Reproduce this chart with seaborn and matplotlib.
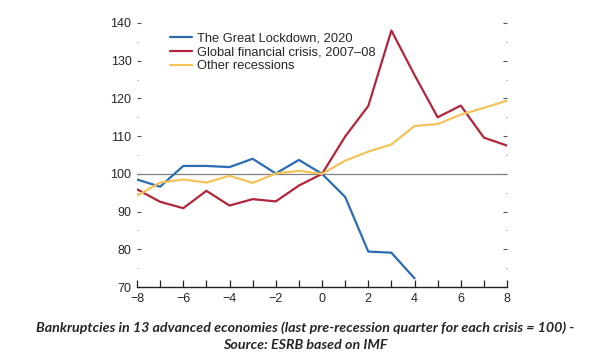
import numpy as np
import pandas as pd
import matplotlib
matplotlib.use("Agg")
import matplotlib.pyplot as plt
from matplotlib.ticker import MultipleLocator
import seaborn as sns

# Data (quarters relative to recession start)
quarters = list(range(-8, 9))
lockdown = [98.5, 96.6, 102.1, 102.1, 101.8, 104.0, 100.1, 103.7, 100.0,
            93.9, 79.4, 79.1, 72.3]
gfc = [95.9, 92.6, 90.9, 95.5, 91.6, 93.3, 92.7, 96.9, 100.0,
       109.9, 118.0, 138.0, 126.2, 115.0, 118.1, 109.6, 107.5]
other = [94.2, 97.7, 98.5, 97.7, 99.5, 97.6, 100.1, 100.8, 100.0,
         103.5, 105.9, 107.8, 112.7, 113.2, 115.7, 117.5, 119.4]

names = ["The Great Lockdown, 2020", "Global financial crisis, 2007\u201308", "Other recessions"]
colors = ["#2b6cb3", "#b1263b", "#f3c35c"]

rows = []
for name, vals in zip(names, [lockdown, gfc, other]):
    for q, v in zip(quarters, vals):
        rows.append({"quarter": q, "value": v, "series": name})
df = pd.DataFrame(rows)

sns.set_theme(style="white")
plt.rcParams['font.family'] = ['Liberation Sans Narrow', 'Liberation Sans', 'DejaVu Sans']

fig = plt.figure(figsize=(6.1, 3.57), dpi=100)
ax = fig.add_axes([0.2246, 0.196, 0.6066, 0.7396])

ax.axhline(100, color="#808080", lw=0.9, zorder=1)
sns.lineplot(data=df, x="quarter", y="value", hue="series", hue_order=names,
             palette=colors, lw=1.6, ax=ax, zorder=3)

ax.set_xlim(-8, 8)
ax.set_ylim(70, 140)
ax.xaxis.set_major_locator(MultipleLocator(2))
ax.xaxis.set_minor_locator(MultipleLocator(1))
ax.yaxis.set_major_locator(MultipleLocator(10))
ax.yaxis.set_minor_locator(MultipleLocator(5))
ax.set_xticklabels([("\u2212" + str(-int(t))) if t < 0 else str(int(t)) for t in ax.get_xticks()])
ax.set_xlabel("")
ax.set_ylabel("")

for s in ["top", "left", "right"]:
    ax.spines[s].set_visible(False)
ax.spines["bottom"].set_color("#222222")
ax.spines["bottom"].set_linewidth(1.0)

ax.tick_params(axis="x", which="both", direction="in", length=5, width=0.9,
               color="#222222", labelsize=9, pad=4, bottom=True)
ax.tick_params(axis="y", which="major", direction="in", length=3, width=0.8,
               color="#555555", labelsize=9, pad=4, left=True, right=True)
ax.tick_params(axis="y", which="minor", direction="in", length=1, width=0.8,
               color="#888888", left=True, right=True)

leg = ax.legend(loc="upper left", frameon=False, fontsize=9.3, handlelength=1.7,
                handletextpad=0.4, labelspacing=0.15, borderaxespad=0.3,
                bbox_to_anchor=(0.065, 1.0))
for line in leg.get_lines():
    line.set_linewidth(1.6)

fig.text(0.5, 0.083, "Bankruptcies in 13 advanced economies (last pre-recession quarter for each crisis = 100) -",
         ha="center", va="center", fontsize=10.3, fontstyle="italic", fontweight="bold",
         family=["Lato", "DejaVu Sans"])
fig.text(0.5, 0.033, "Source: ESRB based on IMF",
         ha="center", va="center", fontsize=10.3, fontstyle="italic", fontweight="bold",
         family=["Lato", "DejaVu Sans"])

fig.savefig("out.png", dpi=100)
